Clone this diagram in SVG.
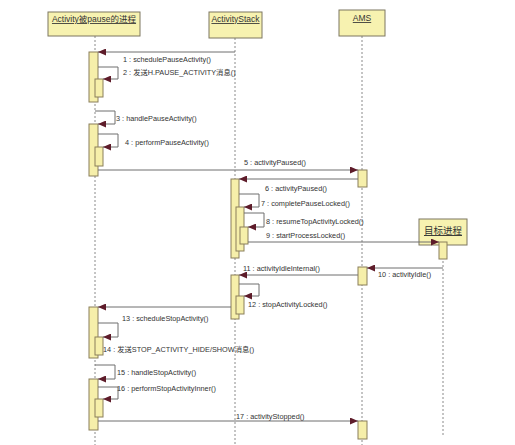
<svg xmlns="http://www.w3.org/2000/svg" width="515" height="445" viewBox="0 0 515 445">
<style>
.bg{fill:#ffffff}
.hdr{fill:#f7f2b0;stroke:#7d7760;stroke-width:1}
.act{fill:#f6efaa;stroke:#8a7f5a;stroke-width:1}
.life{stroke:#8a8a8a;stroke-width:1;stroke-dasharray:2,2;fill:none}
.msg{stroke:#6e6e6e;stroke-width:1;fill:none;marker-end:url(#ah)}
.ht{font-family:"Liberation Sans","Noto Sans CJK SC",sans-serif;font-size:8.5px;fill:#333;text-anchor:middle;text-decoration:underline}
.lb{font-family:"Liberation Sans","Noto Sans CJK SC",sans-serif;font-size:7.3px;fill:#333}
</style>
<defs>
<marker id="ah" markerUnits="userSpaceOnUse" markerWidth="9" markerHeight="7" refX="8" refY="3.5" orient="auto">
<path d="M0,0 L8,3.5 L0,7 z" fill="#5e1c2a"/>
</marker>
</defs>
<rect class="bg" x="0" y="0" width="515" height="445"/>
<g id="lifelines">
<line class="life" x1="95" y1="36" x2="95" y2="445"/>
<line class="life" x1="235" y1="38" x2="235" y2="445"/>
<line class="life" x1="362" y1="36" x2="362" y2="445"/>
<line class="life" x1="443" y1="245" x2="443" y2="437"/>
</g>
<g id="node-activity-process">
<rect class="hdr" x="48" y="12" width="92" height="24"/>
<text class="ht" x="94" y="22">Activity被pause的进程</text>
</g>
<g id="node-activitystack">
<rect class="hdr" x="209" y="12" width="53" height="26"/>
<text class="ht" x="235.5" y="22">ActivityStack</text>
</g>
<g id="node-ams">
<rect class="hdr" x="339" y="10" width="46" height="26"/>
<text class="ht" x="362" y="21">AMS</text>
</g>
<g id="node-target-process">
<rect class="hdr" x="419" y="219" width="48" height="26"/>
<text class="ht" x="443" y="234" style="font-size:9.5px">目标进程</text>
</g>
<g id="activations">
<rect class="act" x="89" y="52" width="9" height="50"/>
<rect class="act" x="95" y="79" width="8" height="18"/>
<rect class="act" x="89" y="124" width="9" height="52"/>
<rect class="act" x="95" y="147" width="8" height="19"/>
<rect class="act" x="89" y="307" width="9" height="51"/>
<rect class="act" x="95" y="337" width="8" height="18"/>
<rect class="act" x="89" y="379" width="9" height="51"/>
<rect class="act" x="95" y="399" width="8" height="18"/>
<rect class="act" x="231" y="179" width="8" height="79"/>
<rect class="act" x="236" y="207" width="8" height="44"/>
<rect class="act" x="240" y="227" width="8" height="17"/>
<rect class="act" x="231" y="275" width="8" height="44"/>
<rect class="act" x="236" y="296" width="8" height="18"/>
<rect class="act" x="358" y="170" width="9" height="17"/>
<rect class="act" x="358" y="267" width="9" height="18"/>
<rect class="act" x="358" y="421" width="9" height="18"/>
<rect class="act" x="439" y="242" width="8" height="17"/>
</g>
<g id="connectors">
<line class="msg" x1="235" y1="52" x2="98" y2="52"/>
<polyline class="msg" points="98,67 118,67 118,79 103,79"/>
<polyline class="msg" points="95,111 115,111 115,124 98,124"/>
<polyline class="msg" points="98,134 118,134 118,147 103,147"/>
<line class="msg" x1="98" y1="170" x2="358" y2="170"/>
<line class="msg" x1="358" y1="179" x2="239" y2="179"/>
<polyline class="msg" points="239,194 259,194 259,207 244,207"/>
<polyline class="msg" points="244,213 264,213 264,227 248,227"/>
<line class="msg" x1="248" y1="242" x2="439" y2="242"/>
<line class="msg" x1="443" y1="268" x2="367" y2="268"/>
<line class="msg" x1="358" y1="275" x2="239" y2="275"/>
<polyline class="msg" points="239,284 259,284 259,296 244,296"/>
<line class="msg" x1="231" y1="307" x2="98" y2="307"/>
<polyline class="msg" points="98,323 118,323 118,337 103,337"/>
<polyline class="msg" points="95,365 115,365 115,379 98,379"/>
<polyline class="msg" points="98,387 118,387 118,399 103,399"/>
<line class="msg" x1="98" y1="421" x2="358" y2="421"/>
</g>
<g id="labels">
<text class="lb" x="123" y="62">1 : schedulePauseActivity()</text>
<text class="lb" x="123" y="75">2 : 发送H.PAUSE_ACTIVITY消息()</text>
<text class="lb" x="116" y="121">3 : handlePauseActivity()</text>
<text class="lb" x="125" y="145">4 : performPauseActivity()</text>
<text class="lb" x="244" y="165">5 : activityPaused()</text>
<text class="lb" x="265" y="191">6 : activityPaused()</text>
<text class="lb" x="261" y="206">7 : completePauseLocked()</text>
<text class="lb" x="266" y="224">8 : resumeTopActivityLocked()</text>
<text class="lb" x="266" y="238">9 : startProcessLocked()</text>
<text class="lb" x="378" y="277">10 : activityIdle()</text>
<text class="lb" x="243" y="271">11 : activityIdleInternal()</text>
<text class="lb" x="248" y="307">12 : stopActivityLocked()</text>
<text class="lb" x="122" y="321">13 : scheduleStopActivity()</text>
<text class="lb" x="103" y="352">14 : 发送STOP_ACTIVITY_HIDE/SHOW消息()</text>
<text class="lb" x="117" y="375">15 : handleStopActivity()</text>
<text class="lb" x="117" y="391">16 : performStopActivityInner()</text>
<text class="lb" x="236" y="419">17 : activityStopped()</text>
</g>
</svg>
